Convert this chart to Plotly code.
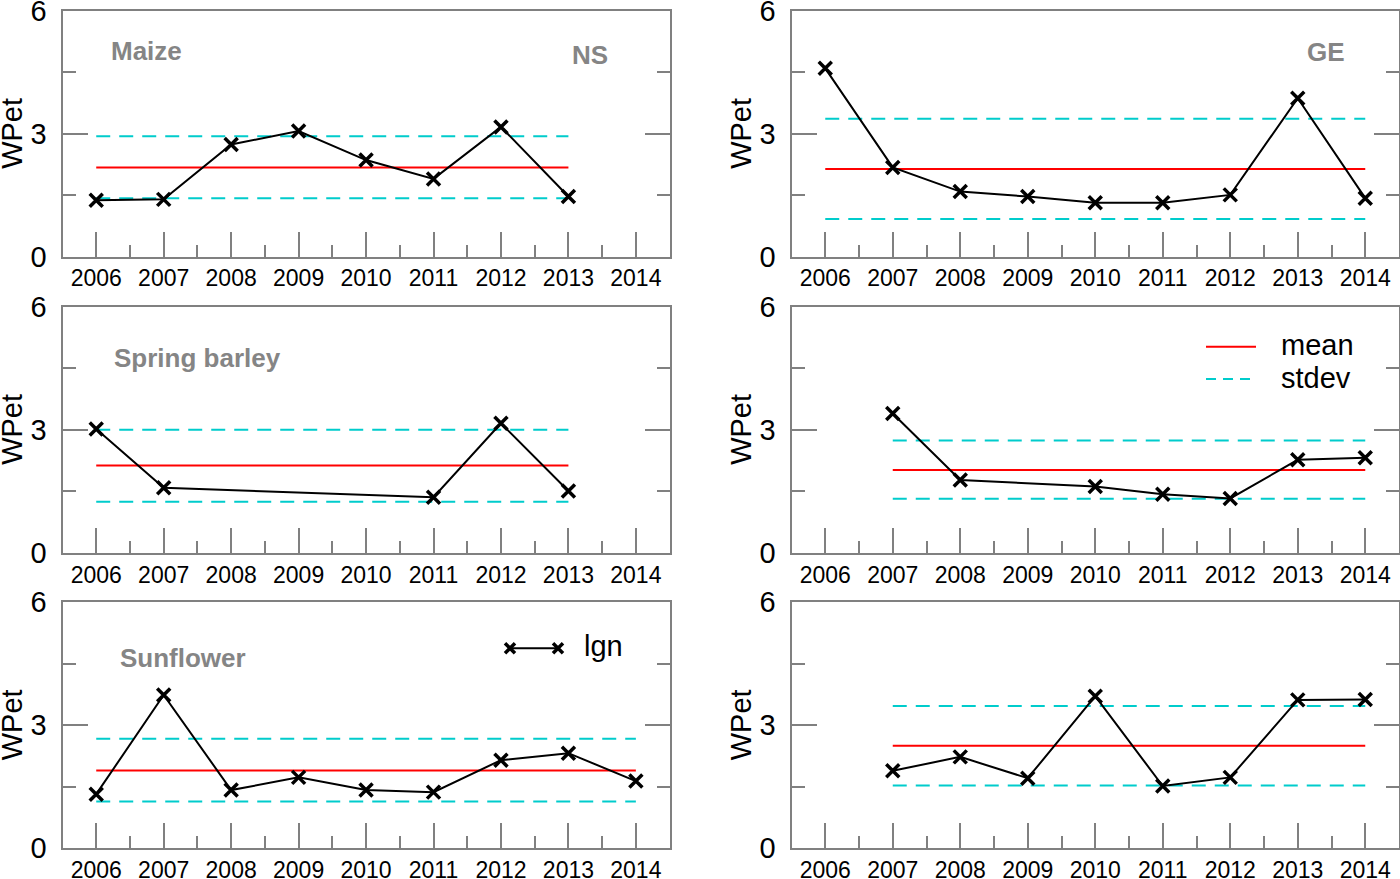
import plotly.graph_objects as go

# ---------------- data ----------------
YEARS = [2006, 2007, 2008, 2009, 2010, 2011, 2012, 2013, 2014]

MAIZE_NS = [1.38, 1.40, 2.74, 3.07, 2.36, 1.90, 3.17, 1.47, None]
MAIZE_GE = [4.60, 2.18, 1.59, 1.47, 1.32, 1.32, 1.51, 3.87, 1.43]
BARLEY_NS = [3.02, 1.59, None, None, None, 1.36, 3.16, 1.51, None]
BARLEY_GE = [None, 3.40, 1.78, None, 1.62, 1.43, 1.33, 2.27, 2.32]
SUNFLOWER_NS = [1.32, 3.74, 1.42, 1.73, 1.42, 1.37, 2.15, 2.32, 1.64]
SUNFLOWER_GE = [None, 1.89, 2.23, 1.71, 3.71, 1.52, 1.73, 3.62, 3.63]

SERIES = [MAIZE_NS, MAIZE_GE, BARLEY_NS, BARLEY_GE, SUNFLOWER_NS, SUNFLOWER_GE]
MEAN = [2.18, 2.14, 2.13, 2.02, 1.90, 2.50]
STD_HI = [2.94, 3.37, 3.00, 2.74, 2.67, 3.47]
STD_LO = [1.43, 0.92, 1.25, 1.32, 1.14, 1.53]

Y_TICKS = [0, 3, 6]
Y_TITLE = "WPet"

# ---------------- styling ----------------
W, H = 1400, 879
GRAY = "rgb(128,128,128)"
LABEL_GRAY = "rgb(133,133,133)"
CYAN = "rgb(0,204,204)"
RED = "rgb(255,0,0)"
FONT = "Liberation Sans"

def px(x):
    return x / W

def py(y):
    return 1 - y / H

X_DOMAINS = [[px(62.5), px(669.6)], [px(791.5), px(1399.0)]]
Y_DOMAINS = [[py(256.7), py(11.0)], [py(553.0), py(306.7)], [py(848.3), py(602.3)]]
Y_TITLE_X = [12, 741]

fig = go.Figure()
layout = dict(
    width=W, height=H,
    margin=dict(l=0, r=0, t=0, b=0, autoexpand=False),
    paper_bgcolor="white", plot_bgcolor="white",
    showlegend=False,
    font=dict(family=FONT, color="black"),
)

for i, vals in enumerate(SERIES):
    row, col = divmod(i, 2)
    n = i + 1
    xa = "x" if n == 1 else f"x{n}"
    ya = "y" if n == 1 else f"y{n}"
    xk = "xaxis" if n == 1 else f"xaxis{n}"
    yk = "yaxis" if n == 1 else f"yaxis{n}"

    valid = [y for y, v in zip(YEARS, vals) if v is not None]
    x0, x1 = valid[0], valid[-1]

    # stdev lines
    for s in (STD_HI[i], STD_LO[i]):
        fig.add_trace(go.Scatter(
            x=[x0, x1], y=[s, s], mode="lines", xaxis=xa, yaxis=ya,
            line=dict(color=CYAN, width=2, dash="14px,9px"), hoverinfo="skip"))
    # mean line
    fig.add_trace(go.Scatter(
        x=[x0, x1], y=[MEAN[i], MEAN[i]], mode="lines", xaxis=xa, yaxis=ya,
        line=dict(color=RED, width=2), hoverinfo="skip"))
    # data series
    fig.add_trace(go.Scatter(
        x=YEARS, y=vals, mode="lines+markers", connectgaps=True,
        xaxis=xa, yaxis=ya, cliponaxis=False,
        line=dict(color="black", width=2),
        marker=dict(symbol="x-thin", size=13, color="black",
                    line=dict(color="black", width=3.5))))

    layout[xk] = dict(
        domain=X_DOMAINS[col], anchor=ya, range=[2005.5, 2014.5],
        automargin=False, ticklabeloverflow="allow",
        tickmode="array", tickvals=YEARS, ticktext=[str(y) for y in YEARS],
        ticks="inside", ticklen=25, tickwidth=2, tickcolor=GRAY,
        minor=dict(tickmode="array", tickvals=[y + 0.5 for y in YEARS[:-1]],
                   ticks="inside", ticklen=12, tickwidth=2, tickcolor=GRAY),
        showline=True, linecolor=GRAY, linewidth=2, mirror=True,
        showgrid=False, zeroline=False,
        tickfont=dict(family=FONT, size=23, color="black"),
        ticklabelstandoff=0,
    )
    layout[yk] = dict(
        domain=Y_DOMAINS[row], anchor=xa, range=[0, 6],
        automargin=False, ticklabeloverflow="allow",
        tickmode="array", tickvals=Y_TICKS, ticktext=[str(t) for t in Y_TICKS],
        ticks="inside", ticklen=25, tickwidth=2, tickcolor=GRAY,
        minor=dict(tickmode="array", tickvals=[1.5, 4.5],
                   ticks="inside", ticklen=13, tickwidth=2, tickcolor=GRAY),
        showline=True, linecolor=GRAY, linewidth=2, mirror="ticks",
        showgrid=False, zeroline=False,
        tickfont=dict(family=FONT, size=29, color="black"),
        ticklabelstandoff=8,
    )
    # y-axis title
    fig.add_annotation(text=Y_TITLE, textangle=-90,
                       x=px(Y_TITLE_X[col]), y=sum(Y_DOMAINS[row]) / 2,
                       xref="paper", yref="paper", xanchor="center", yanchor="middle",
                       showarrow=False, font=dict(family=FONT, size=29, color="black"))

fig.update_layout(**layout)

# panel labels
PANEL_TEXT = [
    ("Maize", 109, 51), ("NS", 570, 55), ("GE", 1305, 52),
    ("Spring barley", 112, 358), ("Sunflower", 118, 658),
]
for txt, x, y in PANEL_TEXT:
    fig.add_annotation(text=f"<b>{txt}</b>", x=px(x), y=py(y), xref="paper", yref="paper",
                       xanchor="left", yanchor="middle", showarrow=False,
                       font=dict(family=FONT, size=26, color=LABEL_GRAY))

# legend: mean / stdev
fig.add_shape(type="line", xref="paper", yref="paper",
              x0=px(1206), x1=px(1256), y0=py(346.7), y1=py(346.7),
              line=dict(color=RED, width=2))
fig.add_shape(type="line", xref="paper", yref="paper",
              x0=px(1206), x1=px(1256), y0=py(379), y1=py(379),
              line=dict(color=CYAN, width=2, dash="10px,7px"))
fig.add_annotation(text="mean", x=px(1279), y=py(345), xref="paper", yref="paper",
                   xanchor="left", yanchor="middle", showarrow=False,
                   font=dict(family=FONT, size=29, color="black"))
fig.add_annotation(text="stdev", x=px(1279), y=py(378), xref="paper", yref="paper",
                   xanchor="left", yanchor="middle", showarrow=False,
                   font=dict(family=FONT, size=29, color="black"))

# legend: lgn
LY = 648.3
fig.add_shape(type="line", xref="paper", yref="paper",
              x0=px(510), x1=px(558), y0=py(LY), y1=py(LY),
              line=dict(color="black", width=2))
for cx in (510, 558):
    d = 5
    path = (f"M {px(cx-d)},{py(LY-d)} L {px(cx+d)},{py(LY+d)} "
            f"M {px(cx-d)},{py(LY+d)} L {px(cx+d)},{py(LY-d)}")
    fig.add_shape(type="path", xref="paper", yref="paper", path=path,
                  line=dict(color="black", width=3.5))
fig.add_annotation(text="lgn", x=px(582), y=py(646), xref="paper", yref="paper",
                   xanchor="left", yanchor="middle", showarrow=False,
                   font=dict(family=FONT, size=29, color="black"))

fig.write_html(
    "out.html",
    config={"displayModeBar": False},
    post_script="document.body.style.margin='0px';document.body.style.overflow='hidden';",
)
